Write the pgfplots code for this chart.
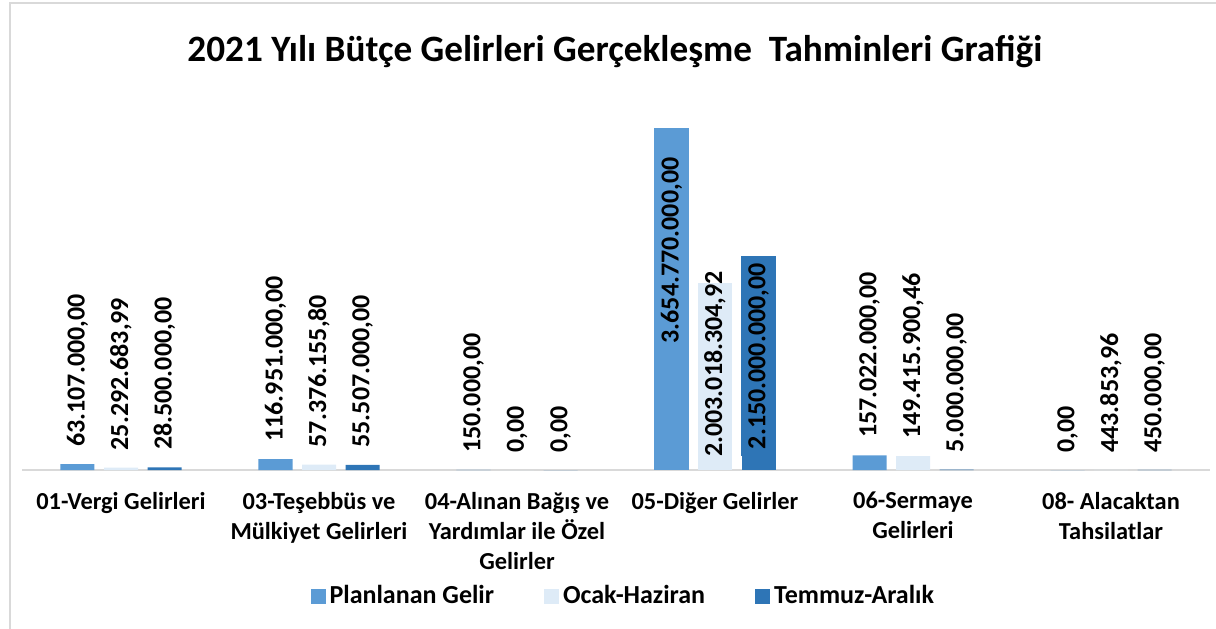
\documentclass[border=0pt]{standalone}
\usepackage{pgfplots}
\pgfplotsset{compat=1.18}
\usepackage{pgfplotstable}
\usepackage{fontspec}
\setmainfont{Carlito}
\definecolor{cP}{HTML}{5B9BD5}
\definecolor{cO}{HTML}{DEEBF7}
\definecolor{cT}{HTML}{2E75B6}
\definecolor{cG}{HTML}{D9D9D9}

\pgfplotstableread{
x y label
0 63107000 63.107.000,00
1 116951000 116.951.000,00
2 150000 150.000,00
4 157022000 157.022.000,00
5 0 0,00
}\planlanan
\pgfplotstableread{
x y label
3 3654770000 3.654.770.000,00
}\planlananB
\pgfplotstableread{
x y label
0 25292683.99 25.292.683,99
1 57376155.80 57.376.155,80
2 0 0,00
4 149415900.46 149.415.900,46
5 443853.96 443.853,96
}\ocak
\pgfplotstableread{
x y label
3 2003018304.92 2.003.018.304,92
}\ocakB
\pgfplotstableread{
x y label
0 28500000 28.500.000,00
1 55507000 55.507.000,00
2 0 0,00
4 5000000 5.000.000,00
5 450000 450.000,00
}\temmuz
\pgfplotstableread{
x y label
3 2150000000 2.150.000.000,00
}\temmuzB

\begin{document}
\begin{tikzpicture}[x=0.5pt,y=0.5pt]
\useasboundingbox (0,0) rectangle (1216,628);
\draw[cG, line width=1pt] (10,-10) -- (10,625) -- (1230,625);
\node[font=\fontsize{18.6}{22}\selectfont\bfseries, anchor=base] at (615,566) {2021 Yılı Bütçe Gelirleri Gerçekleşme\ \ Tahminleri Grafiği};
\begin{axis}[
  at={(11pt,79pt)}, anchor=south west,
  scale only axis, width=594pt, height=187pt,
  xmin=-0.5, xmax=5.5, ymin=0, ymax=4000000000,
  axis y line=none, axis x line*=bottom,
  x axis line style={cG, line width=1pt},
  xtick={0,1,2,3,4,5}, major tick length=0pt,
  xticklabels={{01-Vergi Gelirleri},{03-Teşebbüs ve\\Mülkiyet Gelirleri},{04-Alınan Bağış ve\\Yardımlar ile Özel\\Gelirler},{05-Diğer Gelirler},{06-Sermaye\\Gelirleri},{08- Alacaktan\\Tahsilatlar}},
  xticklabel style={font=\fontsize{12.2}{15}\selectfont\bfseries, align=center, yshift=-7.5pt},
  ybar, bar width=17pt,
  clip=false,
  point meta=explicit symbolic,
  every node near coord/.append style={font=\fontsize{13}{15}\selectfont\bfseries, text=black},
  legend columns=3,
  legend style={at={(0.507,-0.337)}, anchor=center, draw=none, fill=none,
    font=\fontsize{13}{15}\selectfont\bfseries,
    /tikz/every even column/.append style={column sep=23pt}},
  legend image code/.code={\fill[#1] (0pt,-3.75pt) rectangle (7.5pt,3.75pt);},
]
\addplot[fill=cP, draw=none, bar shift=-21.75pt, nodes near coords,
  every node near coord/.append style={rotate=90, anchor=west, inner xsep=8.5pt}]
  table[x=x, y=y, meta=label] {\planlanan};
\addlegendentry{Planlanan Gelir}
\addplot[fill=cO, draw=none, bar shift=0pt, nodes near coords,
  every node near coord/.append style={rotate=90, anchor=west, inner xsep=8.5pt}]
  table[x=x, y=y, meta=label] {\ocak};
\addlegendentry{Ocak-Haziran}
\addplot[fill=cT, draw=none, bar shift=21.75pt, nodes near coords,
  every node near coord/.append style={rotate=90, anchor=west, inner xsep=8.5pt}]
  table[x=x, y=y, meta=label] {\temmuz};
\addlegendentry{Temmuz-Aralık}
\addplot[fill=cP, draw=none, bar shift=-21.75pt, forget plot, nodes near coords,
  every node near coord/.append style={rotate=90, anchor=east, inner xsep=14.5pt}]
  table[x=x, y=y, meta=label] {\planlananB};
\addplot[fill=cO, draw=none, bar shift=0pt, forget plot, nodes near coords,
  every node near coord/.append style={yshift=6.5pt, rotate=90, anchor=east, inner xsep=0.5pt}]
  table[x=x, y=y, meta=label] {\ocakB};
\addplot[fill=cT, draw=none, bar shift=21.75pt, forget plot, nodes near coords,
  every node near coord/.append style={yshift=6.5pt, rotate=90, anchor=east, fill=cT, inner xsep=3.5pt, inner ysep=3.5pt}]
  table[x=x, y=y, meta=label] {\temmuzB};
\end{axis}
\end{tikzpicture}
\end{document}
